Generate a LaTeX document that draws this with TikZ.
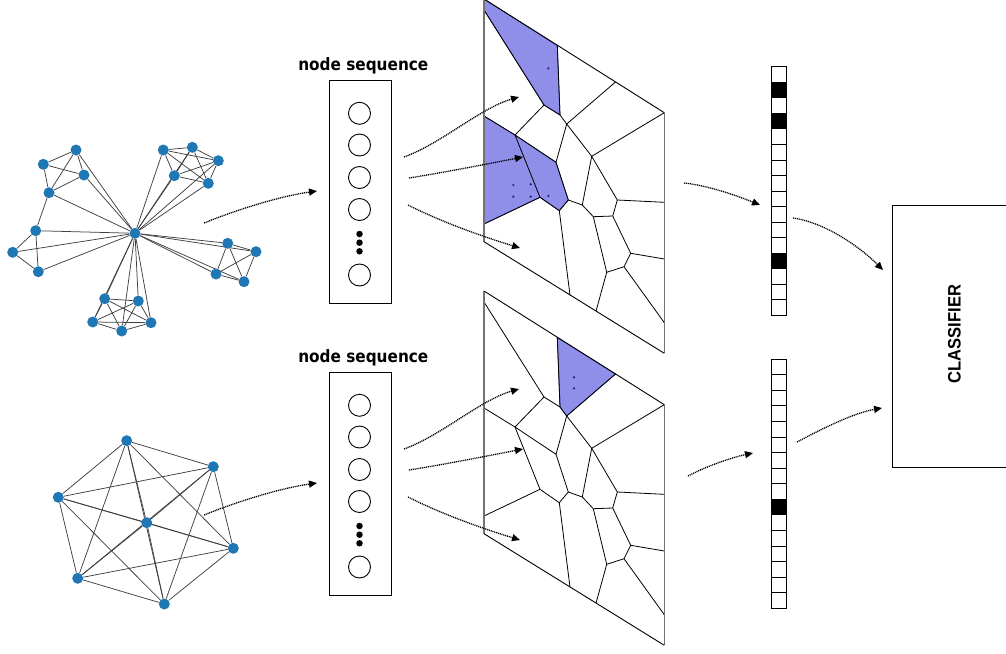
\documentclass[tikz,border=0pt]{standalone}
\usepackage{fontspec}
\newfontfamily\seqfont{DejaVu Sans}[FakeStretch=0.9]
\newfontfamily\clsfont{Liberation Sans}[FakeStretch=0.92]
\usetikzlibrary{arrows.meta,backgrounds}

\definecolor{gblue}{HTML}{1F77B4}
\definecolor{cellfill}{HTML}{8F8FE9}
\definecolor{celledge}{HTML}{2A2A7A}

% corner and vertex positions of one Voronoi panel
\newcommand\vorcoords[2]{%
  \begin{scope}[shift={(0,#2)}]
    \coordinate (#1TL) at (484,-1);
    \coordinate (#1TR) at (664.3,112.7);
    \coordinate (#1BR) at (664.3,353.3);
    \coordinate (#1BL) at (484,241.7);
    \coordinate (#1A) at (484,10);
    \coordinate (#1B) at (557.3,45.5);
    \coordinate (#1C) at (560,115);
    \coordinate (#1D) at (544,105);
    \coordinate (#1E) at (566.7,124);
    \coordinate (#1F) at (615.5,82);
    \coordinate (#1G) at (515,135);
    \coordinate (#1H) at (556,162.3);
    \coordinate (#1I) at (591.7,156.3);
    \coordinate (#1J) at (582.3,205);
    \coordinate (#1K) at (617.3,200);
    \coordinate (#1L) at (664.3,202.3);
    \coordinate (#1M) at (612.7,216);
    \coordinate (#1N) at (593.3,216.7);
    \coordinate (#1O) at (568.3,200);
    \coordinate (#1P) at (559.3,210.7);
    \coordinate (#1Q) at (540,197.3);
    \coordinate (#1R) at (484,116);
    \coordinate (#1S) at (484,224);
    \coordinate (#1T) at (630.7,253.3);
    \coordinate (#1U) at (664.3,259);
    \coordinate (#1V) at (624,266.7);
    \coordinate (#1W) at (606.7,272.3);
    \coordinate (#1X) at (596,311.2);
    \coordinate (#1Y) at (664.3,322.7);
    \coordinate (#1Z) at (570,295.2);
  \end{scope}}

% cell borders and the panel frame
\newcommand\voredges[1]{%
  \draw[vedge] (#1A)--(#1D) (#1B)--(#1C) (#1C)--(#1D) (#1C)--(#1E)
    (#1E)--(#1F) (#1E)--(#1H) (#1E)--(#1I) (#1I)--(#1TR) (#1I)--(#1J)
    (#1I)--(#1K) (#1K)--(#1L) (#1K)--(#1M) (#1M)--(#1N) (#1N)--(#1J)
    (#1J)--(#1O) (#1O)--(#1H) (#1O)--(#1P) (#1P)--(#1Q) (#1Q)--(#1S)
    (#1Q)--(#1G) (#1R)--(#1G) (#1G)--(#1D) (#1G)--(#1H) (#1M)--(#1T)
    (#1T)--(#1U) (#1T)--(#1V) (#1V)--(#1W) (#1W)--(#1N) (#1W)--(#1X)
    (#1V)--(#1Y) (#1P)--(#1Z);
  \draw[frameside] (#1TL)--(#1BL) (#1TR)--(#1BR);
  \draw[frametop] (#1TL)--(#1TR) (#1BL)--(#1BR);}

% node sequence column
\newcommand\seqbox[2]{%
  \begin{scope}[shift={(0,#2)}]
    \node[seqframe] (#1) at (360.2,192) {};
    \node[font=\seqfont\bfseries\fontsize{17}{20}\selectfont, anchor=base] (#1title) at (363.3,70) {node sequence};
    \node[slot] (#1c1) at (359.5,113.3) {};
    \node[slot] (#1c2) at (359.5,145) {};
    \node[slot] (#1c3) at (359.5,177.5) {};
    \node[slot] (#1c4) at (359.5,209.5) {};
    \node[dotmark] (#1d1) at (359.5,234) {};
    \node[dotmark] (#1d2) at (359.5,242.7) {};
    \node[dotmark] (#1d3) at (359.5,251.3) {};
    \node[slot] (#1c5) at (359.5,275) {};
  \end{scope}}

\tikzset{
  vedge/.style={line width=0.8pt, black},
  frameside/.style={line width=1.5pt, black!55},
  frametop/.style={line width=0.9pt, black},
  shade/.style={fill=cellfill, draw=celledge, line width=0.7pt},
  seed/.style={circle, fill=celledge, inner sep=0pt, minimum size=2.6pt},
  seqframe/.style={draw, line width=0.9pt, minimum width=61.7pt, minimum height=222.6pt, inner sep=0pt},
  slot/.style={draw, circle, line width=0.9pt, minimum size=22pt, inner sep=0pt},
  dotmark/.style={circle, fill=black, minimum size=6.5pt, inner sep=0pt},
  gn/.style={circle, fill=gblue, minimum size=11pt, inner sep=0pt},
  gedge/.style={line width=0.75pt, black!75},
  flow/.style={line width=1.3pt, dash pattern=on 1.1pt off 0.8pt, looseness=0.8, -{Triangle[length=8pt,width=7pt]}},
  bitcell/.style={draw, line width=1pt, fill=white},
}

\begin{document}
\begin{tikzpicture}[x=1pt, y=-1pt]
\useasboundingbox (0,0) rectangle (1006,653);

% ---------- upper graph: hub with five dense clusters ----------
\node[gn] (h) at (135,233.3) {};
\node[gn] (a1) at (76,150) {};
\node[gn] (a2) at (43.3,164.3) {};
\node[gn] (a3) at (84,175) {};
\node[gn] (a4) at (49,192.7) {};
\node[gn] (b1) at (35.7,230.7) {};
\node[gn] (b2) at (12.7,252.3) {};
\node[gn] (b3) at (38.3,271.7) {};
\node[gn] (c1) at (163.3,150) {};
\node[gn] (c2) at (192.3,147.3) {};
\node[gn] (c3) at (218.3,160.7) {};
\node[gn] (c4) at (174.3,175.7) {};
\node[gn] (c5) at (208.3,183.3) {};
\node[gn] (d1) at (227.7,243.3) {};
\node[gn] (d2) at (256,251.7) {};
\node[gn] (d3) at (216,274) {};
\node[gn] (d4) at (244,281.7) {};
\node[gn] (e1) at (104.7,298.7) {};
\node[gn] (e2) at (138.3,301) {};
\node[gn] (e3) at (92.7,322) {};
\node[gn] (e4) at (121.7,331) {};
\node[gn] (e5) at (151,322.7) {};
\begin{pgfonlayer}{background}
  \foreach \u/\v in {a1/a2,a1/a3,a1/a4,a2/a3,a2/a4,a3/a4,a4/b1,
      b1/b2,b1/b3,b2/b3,
      c1/c2,c1/c3,c1/c4,c1/c5,c2/c3,c2/c4,c2/c5,c3/c4,c3/c5,c4/c5,
      d1/d2,d1/d3,d1/d4,d2/d3,d2/d4,d3/d4,
      e1/e2,e1/e3,e1/e4,e1/e5,e2/e3,e2/e4,e2/e5,e3/e4,e3/e5,e4/e5}
    \draw[gedge] (\u)--(\v);
  \foreach \v in {a1,a3,a4,b1,b2,b3,c1,c2,c3,c4,c5,d1,d2,d3,d4,e1,e2,e3,e4,e5}
    \draw[gedge] (h)--(\v);
\end{pgfonlayer}

% ---------- lower graph: complete graph on seven nodes ----------
\node[gn] (n1) at (126.7,440.7) {};
\node[gn] (n2) at (213.3,466.7) {};
\node[gn] (n3) at (58.3,497.3) {};
\node[gn] (n4) at (146.7,522.7) {};
\node[gn] (n5) at (233.3,548.3) {};
\node[gn] (n6) at (77.7,578.3) {};
\node[gn] (n7) at (164.3,604) {};
\begin{pgfonlayer}{background}
  \foreach \i in {1,...,6}{
    \pgfmathtruncatemacro\nxt{\i+1}
    \foreach \j in {\nxt,...,7}
      \draw[gedge] (n\i)--(n\j);
  }
\end{pgfonlayer}

% ---------- node sequence columns ----------
\seqbox{sa}{0}
\seqbox{sb}{292}

% ---------- Voronoi panels ----------
\vorcoords{t}{0}
\vorcoords{u}{292}
\draw[shade] (tTL)--(tB)--(tC)--(tD)--(tA)--cycle;
\draw[shade] (tR)--(tG)--(tH)--(tO)--(tP)--(tQ)--(tS)--cycle;
\draw[shade] (uB)--(uF)--(uE)--(uC)--cycle;
\voredges{t}
\voredges{u}
\foreach \p in {(513.3,185),(513.3,196.7),(530.7,184.3),(530.7,196.7),(548.3,196),(548.3,68.3)}
  \node[seed] at \p {};
\foreach \p in {(574,377.3),(574,388.3)}
  \node[seed] at \p {};

% ---------- embedding vectors ----------
\foreach \i in {0,...,15}
  \draw[bitcell] (771,66.7+\i*15.55) rectangle +(15,15.55);
\foreach \i in {1,3,12}
  \draw[bitcell, fill=black] (771,66.7+\i*15.55) rectangle +(15,15.55);
\foreach \i in {0,...,15}
  \draw[bitcell] (771,359.3+\i*15.56) rectangle +(15,15.56);
\draw[bitcell, fill=black] (771,359.3+9*15.56) rectangle +(15,15.56);

% ---------- classifier ----------
\node[draw, line width=0.9pt, minimum width=122pt, minimum height=262pt, inner sep=0pt] (cls) at (953,336) {};
\node[rotate=90, font=\clsfont\bfseries\fontsize{18}{20}\selectfont] (clslabel) at (954.5,334) {CLASSIFIER};

% ---------- flow arrows ----------
\coordinate (ga) at (204,223);   \coordinate (saIn) at (317,191);
\coordinate (gb) at (204,515);   \coordinate (sbIn) at (317,483);
\coordinate (sa1) at (404,157);  \coordinate (ta1) at (519,97);
\coordinate (sa2) at (409,178);  \coordinate (ta2) at (523,157);
\coordinate (sa3) at (408,205);  \coordinate (ta3) at (520,248);
\coordinate (sb1) at (404,449);  \coordinate (ub1) at (519,389);
\coordinate (sb2) at (409,470);  \coordinate (ub2) at (523,449);
\coordinate (sb3) at (408,497);  \coordinate (ub3) at (520,540);
\coordinate (tv) at (684,183);   \coordinate (va) at (760,205);
\coordinate (uv) at (688,476);   \coordinate (vb) at (753,453);
\coordinate (vao) at (793,218);  \coordinate (ca) at (883,270);
\coordinate (vbo) at (797,442);  \coordinate (cb) at (882,408);

\draw[flow] (ga) to[out=22,in=188] (saIn);
\draw[flow] (gb) to[out=22,in=188] (sbIn);
\draw[flow] (sa1) to[out=20,in=196] (ta1);
\draw[flow] (sa2) to[out=9,in=191] (ta2);
\draw[flow] (sa3) to[out=-27,in=163] (ta3);
\draw[flow] (sb1) to[out=20,in=196] (ub1);
\draw[flow] (sb2) to[out=9,in=191] (ub2);
\draw[flow] (sb3) to[out=-27,in=163] (ub3);
\draw[flow] (tv) to[out=-6,in=158] (va);
\draw[flow] (uv) to[out=28,in=192] (vb);
\draw[flow] (vao) to[out=-8,in=135] (ca);
\draw[flow] (vbo) to[out=28,in=190] (cb);
\end{tikzpicture}
\end{document}
